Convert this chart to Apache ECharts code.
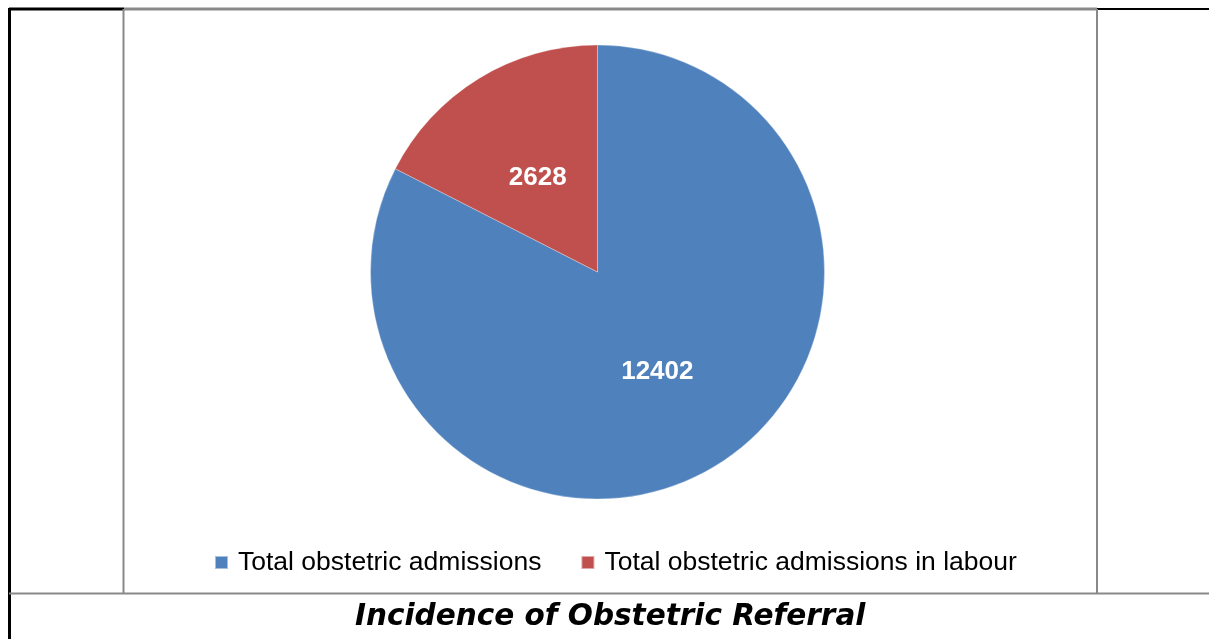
<!DOCTYPE html>
<html>
<head>
<meta charset="utf-8">
<script src="https://cdn.jsdelivr.net/npm/echarts@6/dist/echarts.min.js"></script>
<style>
html,body{margin:0;padding:0;background:#fff;}
#chart{width:1209px;height:639px;}
</style>
</head>
<body>
<div id="chart"></div>
<script>
const categories = ['Total obstetric admissions', 'Total obstetric admissions in labour'];
const values = [12402, 2628];
const colors = ['#4F81BD', '#C0504D'];
const titleText = 'Incidence of Obstetric Referral';

const chart = echarts.init(document.getElementById('chart'), null, {renderer: 'canvas'});
const gray = '#898989';
chart.setOption({
  animation: false,
  backgroundColor: '#ffffff',
  color: colors,
  legend: {
    left: 214, top: 549, padding: 0,
    itemWidth: 13, itemHeight: 13, itemGap: 39,
    icon: 'rect',
    textStyle: {fontFamily: 'Liberation Sans', fontSize: 26.5, lineHeight: 26, color: '#000', padding: [0,0,0,5]},
    data: categories
  },
  series: [{
    type: 'pie',
    center: [597.5, 272],
    radius: [0, 227],
    startAngle: 90,
    clockwise: true,
    label: {
      show: true, position: 'inside', formatter: '{c}',
      color: '#fff', fontFamily: 'Liberation Sans', fontWeight: 'bold', fontSize: 26
    },
    labelLine: {show: false},
    itemStyle: {borderColor: 'rgba(255,255,255,0.5)', borderWidth: 0.6},
    emphasis: {disabled: true},
    data: categories.map((c, i) => ({name: c, value: values[i], label: i === 1 ? {offset: [1, 5]} : {offset: [-1, 0]}}))
  }],
  graphic: [
    {type: 'line', shape: {x1: 9, y1: 9, x2: 124, y2: 9}, style: {stroke: '#000', lineWidth: 3}},
    {type: 'line', shape: {x1: 124, y1: 9, x2: 1097, y2: 9}, style: {stroke: gray, lineWidth: 3}},
    {type: 'line', shape: {x1: 1097, y1: 9, x2: 1209, y2: 9}, style: {stroke: '#000', lineWidth: 2}},
    {type: 'line', shape: {x1: 9.5, y1: 8, x2: 9.5, y2: 639}, style: {stroke: '#000', lineWidth: 3}},
    {type: 'line', shape: {x1: 123.5, y1: 9, x2: 123.5, y2: 593}, style: {stroke: gray, lineWidth: 2}},
    {type: 'line', shape: {x1: 1097, y1: 9, x2: 1097, y2: 593}, style: {stroke: gray, lineWidth: 2}},
    {type: 'line', shape: {x1: 9, y1: 593.5, x2: 1209, y2: 593.5}, style: {stroke: gray, lineWidth: 2}},
    {type: 'text', left: 355, top: 602,
      style: {text: titleText, fontFamily: 'DejaVu Sans', fontWeight: 'bold', fontStyle: 'italic', fontSize: 29.5, fill: '#000'}}
  ]
});
</script>
</body>
</html>
